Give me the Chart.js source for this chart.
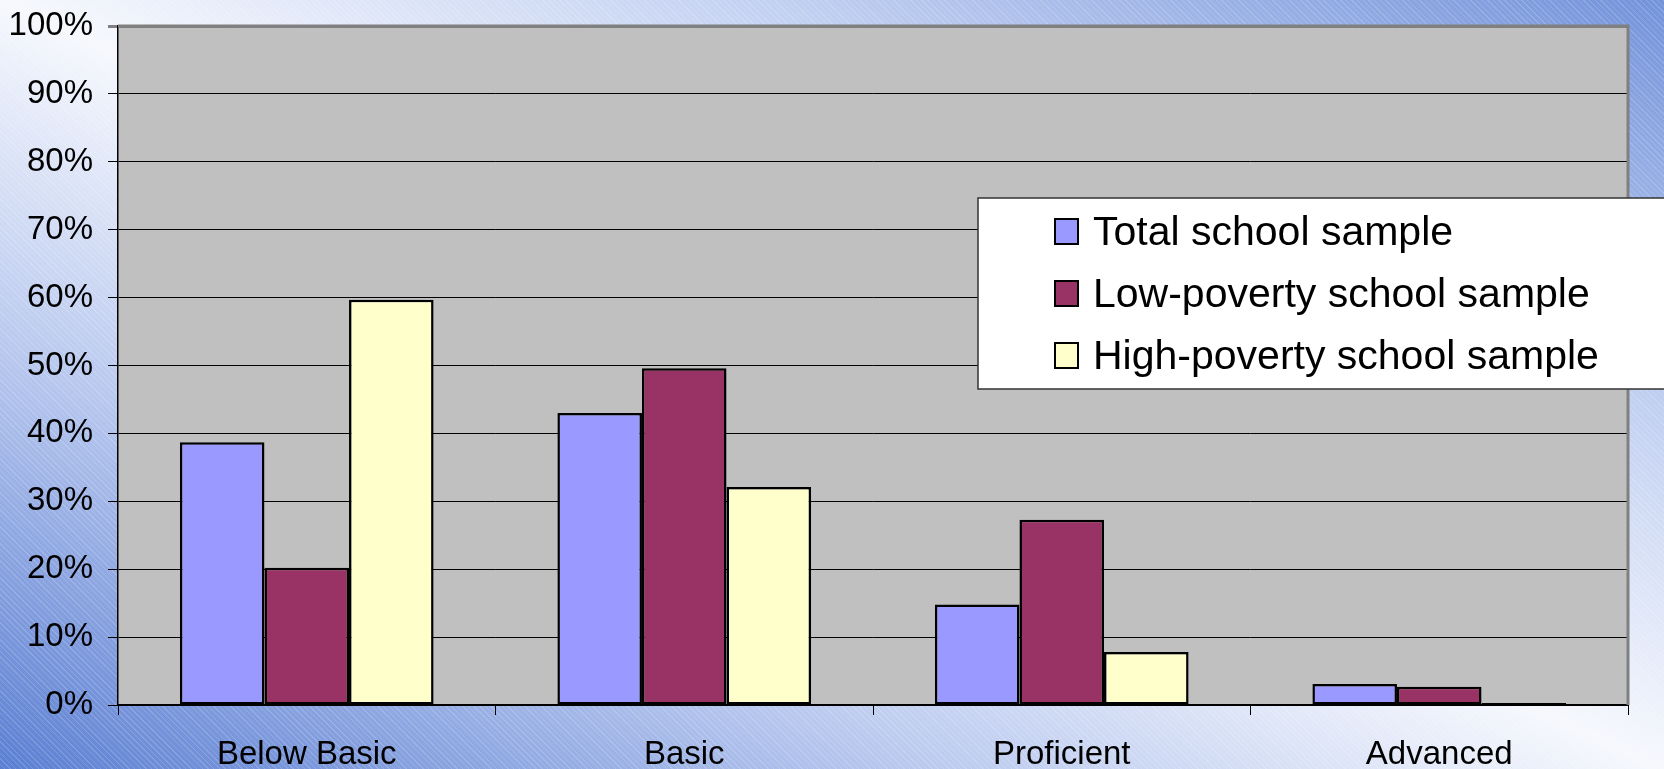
<!DOCTYPE html>
<html>
<head>
<meta charset="utf-8">
<script src="https://cdn.jsdelivr.net/npm/chart.js@4.4.1/dist/chart.umd.min.js"></script>
<style>
  html, body { margin: 0; padding: 0; width: 1664px; height: 769px; overflow: hidden; }
  body {
    background:
      repeating-linear-gradient(45deg, rgba(255,255,255,0) 0px, rgba(255,255,255,0) 3px, rgba(255,255,255,0.16) 3px, rgba(255,255,255,0.16) 4px),
      linear-gradient(to top right, #5b7fd2 0%, #b7c7ee 27%, #f6f8fd 50%, #c2d0f1 73%, #7393da 100%);
  }
  canvas { display: block; }
</style>
</head>
<body>
<canvas id="chart" width="1664" height="769"></canvas>
<script>
// Achievement levels and the share of students at each level (percent)
const categories = ['Below Basic', 'Basic', 'Proficient', 'Advanced'];
const seriesNames = ['Total school sample', 'Low-poverty school sample', 'High-poverty school sample'];
const totalSample = [38.7, 43.0, 14.8, 3.1];
const lowPovertySample = [20.2, 49.6, 27.3, 2.7];
const highPovertySample = [59.7, 32.1, 7.8, 0.3];
const yTickValues = [0, 10, 20, 30, 40, 50, 60, 70, 80, 90, 100];
const seriesColors = ['#9999ff', '#993366', '#ffffcc'];

const FONT = "'Liberation Sans', Arial, sans-serif";

// Grey plot background with a grey frame on the top and right
const plotFrame = {
  id: 'plotFrame',
  beforeDraw(chart) {
    const { ctx, chartArea: a } = chart;
    ctx.save();
    ctx.fillStyle = '#c0c0c0';
    ctx.fillRect(a.left, a.top, a.right - a.left, a.bottom - a.top);
    ctx.restore();
  },
  afterDatasetsDraw(chart) {
    const { ctx, chartArea: a } = chart;
    ctx.save();
    ctx.strokeStyle = '#808080';
    ctx.lineWidth = 3;
    ctx.beginPath();
    ctx.moveTo(a.left, a.top);
    ctx.lineTo(a.right, a.top);
    ctx.lineTo(a.right, a.bottom);
    ctx.stroke();
    ctx.restore();
  }
};

// Legend box sitting inside the plot, running off the right edge
const insetLegend = {
  id: 'insetLegend',
  afterDraw(chart) {
    const { ctx } = chart;
    const boxLeft = 978, boxTop = 198, boxBottom = 389;
    ctx.save();
    ctx.fillStyle = '#ffffff';
    ctx.fillRect(boxLeft, boxTop, 1700 - boxLeft, boxBottom - boxTop);
    ctx.strokeStyle = '#333333';
    ctx.lineWidth = 1.5;
    ctx.strokeRect(boxLeft, boxTop, 1700 - boxLeft, boxBottom - boxTop);

    const rowBaselines = [245, 307, 369];
    chart.data.datasets.forEach((ds, i) => {
      const base = rowBaselines[i];
      ctx.fillStyle = ds.backgroundColor;
      ctx.fillRect(1055, base - 26, 23, 25);
      ctx.strokeStyle = '#000000';
      ctx.lineWidth = 2;
      ctx.strokeRect(1055, base - 26, 23, 25);

      ctx.fillStyle = '#000000';
      ctx.font = '41px ' + FONT;
      ctx.textBaseline = 'alphabetic';
      ctx.textAlign = 'left';
      ctx.fillText(ds.label, 1093, base);
    });
    ctx.restore();
  }
};

const makeDataset = (label, data, color) => ({
  label, data,
  backgroundColor: color,
  borderColor: '#000000',
  borderWidth: 2.5,
  borderSkipped: false,
  categoryPercentage: 0.672,
  barPercentage: 1.0
});

new Chart(document.getElementById('chart'), {
  type: 'bar',
  data: {
    labels: categories,
    datasets: [
      makeDataset(seriesNames[0], totalSample, seriesColors[0]),
      makeDataset(seriesNames[1], lowPovertySample, seriesColors[1]),
      makeDataset(seriesNames[2], highPovertySample, seriesColors[2])
    ]
  },
  options: {
    responsive: false,
    devicePixelRatio: 1,
    animation: false,
    layout: { padding: { top: 26, right: 36, left: 0, bottom: 0 } },
    plugins: {
      legend: { display: false },
      tooltip: { enabled: false },
      title: { display: false }
    },
    scales: {
      x: {
        offset: true,
        grid: {
          offset: true,
          drawOnChartArea: false,
          drawTicks: true,
          tickLength: 10,
          color: '#000000',
          lineWidth: 1
        },
        border: { display: true, color: '#000000', width: 2 },
        ticks: {
          color: '#000000',
          padding: 20,
          font: { family: FONT, size: 33 },
          maxRotation: 0
        },
        afterFit(scale) {
          scale.height = 64;
          scale.paddingLeft = 0;
          scale.paddingRight = 0;
        }
      },
      y: {
        min: 0,
        max: 100,
        afterBuildTicks(scale) { scale.ticks = yTickValues.map(v => ({ value: v })); },
        grid: {
          drawTicks: true,
          tickLength: 10,
          color: (c) => (c.tick && c.tick.value === 100) ? '#808080' : '#000000',
          lineWidth: (c) => (c.tick && c.tick.value === 100) ? 3 : 1
        },
        border: { display: true, color: '#000000', width: 1.5 },
        ticks: {
          color: '#000000',
          padding: 15,
          font: { family: FONT, size: 33 },
          callback: (v) => v + '%'
        },
        afterFit(scale) {
          scale.width = 118;
          scale.paddingTop = 0;
          scale.paddingBottom = 0;
        }
      }
    }
  },
  plugins: [plotFrame, insetLegend]
});
</script>
</body>
</html>
